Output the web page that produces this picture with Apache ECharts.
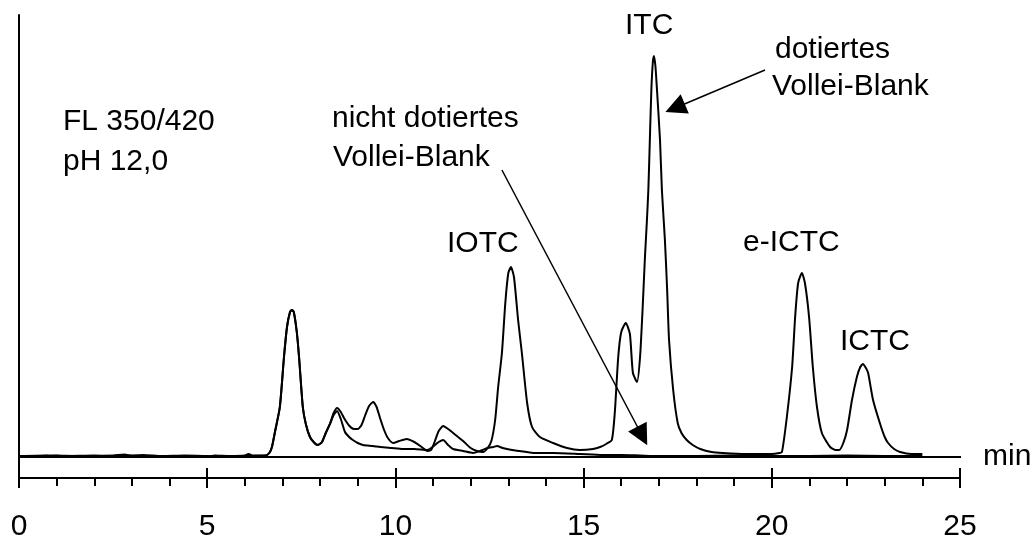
<!DOCTYPE html>
<html>
<head>
    <meta charset="UTF-8">
    <title>Chromatogramm Vollei-Blank</title>
    <script src="https://cdn.jsdelivr.net/npm/echarts@6/dist/echarts.min.js"></script>
    <style>
        body { margin: 0; background: #fff; }
    </style>
</head>
<body>
    <div id="main" style="width:1036px;height:537px;"></div>
    <script type="text/javascript">
        // Zeitachse (min)
        var xTicks = [0, 5, 10, 15, 20, 25];

        // dotiertes Vollei-Blank: [Zeit in min, Signal]
        var dotiert = [
            [0, 1], [0.5, 1], [1.0, 1.5], [1.5, 1], [2.0, 1], [2.5, 1.5], [2.8, 2.5], [3.0, 1],
            [3.5, 1], [4.0, 0.5], [4.5, 1], [5.0, 0], [5.2, 1.5], [5.6, 1], [6.0, 1.5], [6.1, 3],
            [6.2, 1.5], [6.55, 1.5], [6.65, 4], [6.72, 10], [6.8, 25], [6.93, 50], [7.04, 100],
            [7.12, 130], [7.2, 145], [7.25, 147], [7.3, 145], [7.38, 125], [7.44, 100], [7.54, 50],
            [7.62, 33], [7.73, 20], [7.85, 14], [7.94, 12], [8.05, 15], [8.15, 24], [8.26, 33],
            [8.36, 44], [8.45, 49], [8.55, 45], [8.65, 38], [8.78, 31], [8.9, 28], [9.0, 28],
            [9.1, 32], [9.2, 42], [9.3, 51], [9.41, 55], [9.5, 50], [9.6, 38], [9.7, 27], [9.8, 19],
            [9.94, 14], [10.1, 16], [10.3, 18], [10.5, 15], [10.7, 10], [10.85, 6], [10.95, 7],
            [11.05, 16], [11.15, 26], [11.27, 31], [11.4, 28], [11.6, 22], [11.8, 16], [12.0, 9],
            [12.17, 6], [12.33, 5], [12.45, 9], [12.55, 16], [12.65, 37], [12.73, 70], [12.83, 104],
            [12.92, 154], [13.0, 184], [13.07, 190], [13.15, 180], [13.26, 137], [13.36, 104],
            [13.5, 54], [13.63, 30], [13.84, 20], [14.19, 14], [14.56, 9], [14.9, 7], [15.25, 8],
            [15.44, 10], [15.6, 13], [15.75, 17], [15.83, 45], [15.92, 100], [16.0, 125],
            [16.12, 134], [16.23, 123], [16.31, 84], [16.42, 75], [16.5, 100], [16.57, 150],
            [16.63, 200], [16.68, 235], [16.72, 267], [16.76, 317], [16.8, 367], [16.84, 395],
            [16.87, 401], [16.91, 390], [16.95, 367], [17.03, 317], [17.08, 267], [17.16, 217],
            [17.22, 167], [17.27, 117], [17.38, 67], [17.5, 34], [17.6, 24], [17.74, 17], [17.9, 12],
            [18.1, 8], [18.4, 5], [18.7, 4], [19.3, 3], [20.0, 3], [20.2, 4], [20.27, 5], [20.4, 40],
            [20.54, 90], [20.62, 140], [20.7, 174], [20.8, 184], [20.88, 174], [20.99, 140],
            [21.09, 90], [21.2, 50], [21.33, 24], [21.55, 10], [21.7, 7], [21.79, 7], [21.9, 14],
            [22.0, 27], [22.13, 57], [22.26, 80], [22.35, 90], [22.42, 93], [22.5, 89], [22.56, 84],
            [22.69, 57], [22.87, 34], [23.0, 20], [23.09, 14], [23.25, 8], [23.41, 5], [23.7, 3],
            [24.0, 3]
        ];

        // nicht dotiertes Vollei-Blank
        var nichtDotiert = [
            [0, 1], [0.7, 1.5], [1.2, 1], [2.0, 1.5], [2.6, 1], [3.3, 2], [3.8, 1], [4.4, 1.5],
            [5.0, 1], [5.5, 0.5], [6.0, 1], [6.55, 1.5], [6.65, 4], [6.72, 10], [6.8, 25], [6.93, 50],
            [7.04, 100], [7.12, 130], [7.2, 145], [7.25, 147], [7.3, 145], [7.38, 125], [7.44, 100],
            [7.54, 50], [7.62, 33], [7.73, 20], [7.85, 14], [7.94, 12], [8.05, 15], [8.15, 24],
            [8.26, 33], [8.36, 42], [8.45, 46], [8.55, 38], [8.66, 25], [8.77, 20], [8.87, 17],
            [9.0, 14], [9.14, 12], [9.4, 11], [9.6, 10], [9.9, 9], [10.2, 8], [10.5, 8], [10.84, 7],
            [10.95, 9], [11.05, 12], [11.15, 15], [11.27, 17], [11.4, 12], [11.53, 8], [11.8, 6],
            [12.06, 4], [12.25, 6], [12.45, 9], [12.6, 10], [12.7, 11], [12.85, 9], [13.1, 7],
            [13.3, 6], [13.66, 4], [14.2, 4], [14.9, 3], [15.5, 2], [16.0, 2], [16.5, 1.5],
            [17.0, 1], [18.0, 1], [19.0, 1.5], [20.0, 1], [21.0, 1], [22.0, 1.5], [23.0, 1], [24.0, 1]
        ];

        // Nulllinie des Detektors
        var nullLinie = [[0, 0], [25.08, 0]];

        // Pfeile: [Start, Spitze] in Datenkoordinaten
        var pfeile = [
            [[19.82, 387], [17.43, 349]],
            [[12.83, 287], [16.56, 21]]
        ];

        var schwarz = '#000';
        var schrift = '"Liberation Sans", Arial, sans-serif';

        var myChart = echarts.init(document.getElementById('main'));

        function text(str, x, y) {
            return {
                type: 'text',
                left: x,
                top: y,
                silent: true,
                style: {
                    text: str,
                    font: '30px ' + schrift,
                    fill: schwarz
                }
            };
        }

        // Plotfläche fest, Beschriftung darf über den Rand ragen
        function raster() {
            return { left: 19, right: 76, top: 15, bottom: 59, containLabel: false, outerBoundsMode: 'none' };
        }

        myChart.setOption({
            animation: false,
            backgroundColor: '#fff',
            grid: [
                raster(),
                // zweites Raster nur für die nach oben zeigenden Hauptstriche
                raster()
            ],
            xAxis: [
                {
                    type: 'value',
                    gridIndex: 0,
                    min: xTicks[0],
                    max: xTicks[xTicks.length - 1],
                    interval: 5,
                    position: 'bottom',
                    axisLine: { onZero: false, lineStyle: { color: schwarz, width: 2 } },
                    axisTick: { length: 10, lineStyle: { color: schwarz, width: 2 } },
                    minorTick: { show: true, splitNumber: 5, length: 8, lineStyle: { color: schwarz, width: 2 } },
                    splitLine: { show: false },
                    axisLabel: {
                        margin: 34,
                        color: schwarz,
                        fontSize: 30,
                        fontFamily: schrift
                    }
                },
                {
                    type: 'value',
                    gridIndex: 1,
                    min: xTicks[0],
                    max: xTicks[xTicks.length - 1],
                    interval: 5,
                    position: 'bottom',
                    axisLine: { show: false, onZero: false },
                    axisTick: { show: true, inside: true, length: 10, lineStyle: { color: schwarz, width: 2 } },
                    splitLine: { show: false },
                    axisLabel: { show: false }
                }
            ],
            yAxis: [
                {
                    type: 'value',
                    gridIndex: 0,
                    min: -21,
                    max: 442,
                    axisLine: { show: true, onZero: false, lineStyle: { color: schwarz, width: 2 } },
                    axisTick: { show: false },
                    axisLabel: { show: false },
                    splitLine: { show: false }
                },
                {
                    type: 'value',
                    gridIndex: 1,
                    min: -21,
                    max: 442,
                    show: false
                }
            ],
            series: [
                {
                    name: 'dotiertes Vollei-Blank',
                    type: 'line',
                    data: dotiert,
                    symbol: 'none',
                    smooth: 0.2,
                    lineStyle: { color: schwarz, width: 2 },
                    markLine: {
                        silent: true,
                        symbol: ['none', 'triangle'],
                        symbolSize: 21,
                        label: { show: false },
                        itemStyle: { color: schwarz },
                        lineStyle: { color: schwarz, width: 1.5, type: 'solid' },
                        data: pfeile.map(function (p) {
                            return [{ coord: p[0] }, { coord: p[1] }];
                        })
                    }
                },
                {
                    name: 'nicht dotiertes Vollei-Blank',
                    type: 'line',
                    data: nichtDotiert,
                    symbol: 'none',
                    smooth: 0.2,
                    lineStyle: { color: schwarz, width: 2 }
                },
                {
                    name: 'Nulllinie',
                    type: 'line',
                    data: nullLinie,
                    symbol: 'none',
                    clip: false,
                    lineStyle: { color: schwarz, width: 2 }
                }
            ],
            graphic: [
                text('FL 350/420', 63, 107),
                text('pH 12,0', 63, 147),
                text('nicht dotiertes', 332, 104),
                text('Vollei-Blank', 333, 143),
                text('dotiertes', 775, 35),
                text('Vollei-Blank', 772, 72),
                text('ITC', 625, 11),
                text('IOTC', 447, 229),
                text('e-ICTC', 743, 228),
                text('ICTC', 840, 327),
                text('min', 983, 442)
            ]
        });
    </script>
</body>
</html>
